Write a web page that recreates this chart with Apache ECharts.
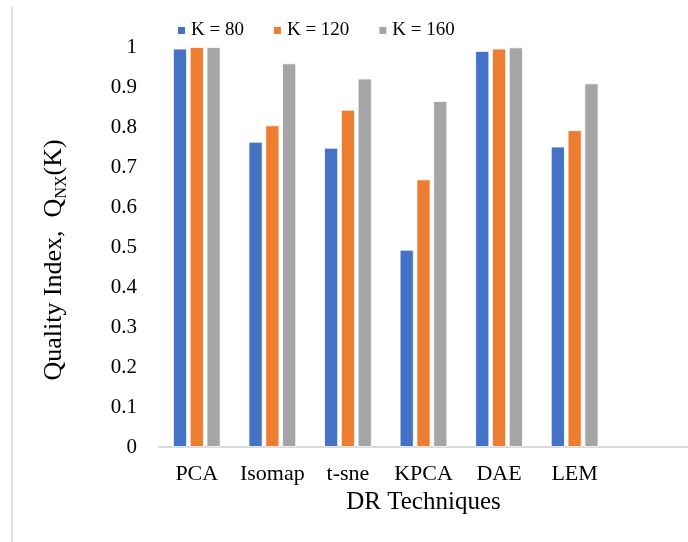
<!DOCTYPE html>
<html>
<head>
<meta charset="utf-8">
<script src="https://cdn.jsdelivr.net/npm/echarts@6/dist/echarts.min.js"></script>
<style>
  html, body { margin: 0; padding: 0; background: #fff; }
  #chart { width: 688px; height: 542px; }
</style>
</head>
<body>
<div id="chart"></div>
<script>
// DR techniques compared by quality index at three neighbourhood sizes
const categories = ['PCA', 'Isomap', 't-sne', 'KPCA', 'DAE', 'LEM', ''];
const seriesNames = ['K = 80', 'K = 120', 'K = 160'];
const k80  = [0.996, 0.763, 0.748, 0.493, 0.990, 0.751, null];
const k120 = [1.000, 0.804, 0.843, 0.669, 0.996, 0.792, null];
const k160 = [1.000, 0.959, 0.921, 0.865, 0.999, 0.909, null];
const colors = ['#4472C4', '#ED7D31', '#A5A5A5'];

const FONT = '"Liberation Serif", "Times New Roman", serif';
const chart = echarts.init(document.getElementById('chart'));

const makeSeries = (name, data, color) => ({
  name: name,
  type: 'bar',
  data: data,
  barWidth: 14,
  barGap: '20%',
  itemStyle: { color: color, borderColor: '#ffffff', borderWidth: 0.8 }
});

chart.setOption({
  animation: false,
  backgroundColor: '#ffffff',
  color: colors,
  legend: {
    top: 16,
    left: 171,
    itemWidth: 9,
    itemHeight: 9,
    itemGap: 28,
    icon: 'rect',
    textStyle: { fontFamily: FONT, fontSize: 19, color: '#000' },
    data: seriesNames
  },
  grid: { left: 159, right: -6, top: 47, bottom: 95, containLabel: false },
  xAxis: {
    type: 'category',
    data: categories,
    axisLine: { lineStyle: { color: '#d9d9d9', width: 2 } },
    axisTick: { show: false },
    axisLabel: { fontFamily: FONT, fontSize: 22, color: '#000', margin: 16, interval: 0 },
    name: 'DR Techniques',
    nameLocation: 'middle',
    nameGap: 40,
    nameTextStyle: { fontFamily: FONT, fontSize: 25, color: '#000' }
  },
  yAxis: {
    type: 'value',
    min: 0,
    max: 1,
    interval: 0.1,
    axisLine: { show: false },
    axisTick: { show: false },
    splitLine: { show: false },
    axisLabel: {
      fontFamily: FONT, fontSize: 21, color: '#000', margin: 22,
      formatter: v => String(Math.round(v * 10) / 10)
    },
    name: '{a|Quality Index,  Q}{s|NX}{a|(K)}',
    nameLocation: 'middle',
    nameGap: 92,
    nameRotate: 90,
    nameTextStyle: {
      padding: [0, 26, 0, 0],
      rich: {
        a: { fontFamily: FONT, fontSize: 26, color: '#000', lineHeight: 30, verticalAlign: 'bottom' },
        s: { fontFamily: FONT, fontSize: 16, color: '#000', lineHeight: 30, verticalAlign: 'bottom', padding: [0, 0, -3, 0] }
      }
    }
  },
  graphic: [{
    type: 'line',
    shape: { x1: 12, y1: 7, x2: 12, y2: 542 },
    style: { stroke: '#d9d9d9', lineWidth: 1.5 },
    silent: true
  }],
  series: [
    makeSeries(seriesNames[0], k80, colors[0]),
    makeSeries(seriesNames[1], k120, colors[1]),
    makeSeries(seriesNames[2], k160, colors[2])
  ]
});
</script>
</body>
</html>
